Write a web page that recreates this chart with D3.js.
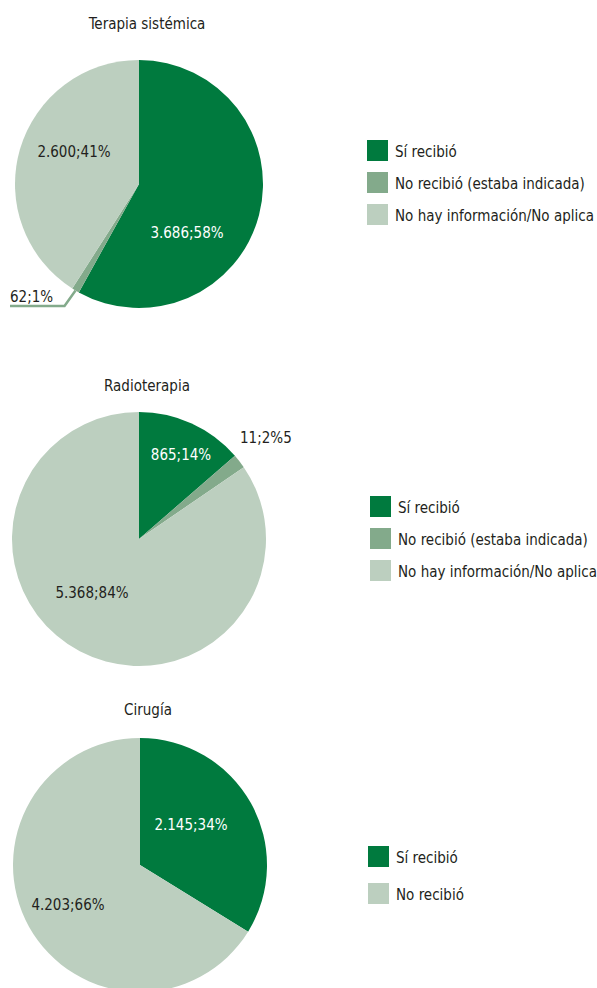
<!DOCTYPE html>
<html>
<head>
<meta charset="utf-8">
<script src="https://cdn.jsdelivr.net/npm/d3@7"></script>
<style>
  body { margin: 0; background: #fff; }
  text { font-family: "Liberation Sans Narrow", "DejaVu Sans Condensed", "Roboto", sans-serif; fill: #231f20; }
</style>
</head>
<body>
<div class="graph"></div>
<script>
// data
var titles = ['Terapia sistémica', 'Radioterapia', 'Cirugía'];
var categories = ['Sí recibió', 'No recibió (estaba indicada)', 'No hay información/No aplica'];
var categoriesCirugia = ['Sí recibió', 'No recibió'];
var terapiaValues = [3686, 62, 2600];
var radioValues = [865, 115, 5368];
var cirugiaValues = [2145, 4203];
var terapiaLabels = ['3.686;58%', '62;1%', '2.600;41%'];
var radioLabels = ['865;14%', '11;2%5', '5.368;84%'];
var cirugiaLabels = ['2.145;34%', '4.203;66%'];

var width = 597,
    height = 988;

var svg = d3.select('div.graph')
    .append('svg')
        .attr('width', width)
        .attr('height', height);

var color3 = d3.scaleOrdinal(categories, ['#007a3e', '#83aa8b', '#bccfbf']);
var color2 = d3.scaleOrdinal(categoriesCirugia, ['#007a3e', '#bccfbf']);

var charts = [
  {title: titles[0], values: terapiaValues, labels: terapiaLabels, cats: categories, color: color3,
   cx: 139, cy: 184, r: 124, titleY: 29,
   labelPos: [[48, 54, 'w'], null, [-65, -27, 'd']],
   leader: 1,
   legend: {x: 367, y: 140, step: 32}},
  {title: titles[1], values: radioValues, labels: radioLabels, cats: categories, color: color3,
   cx: 139, cy: 539, r: 127, titleY: 391,
   labelPos: [[42, -79, 'w'], [101, -96, 'o'], [-47, 59, 'd']],
   legend: {x: 370, y: 496, step: 32}},
  {title: titles[2], values: cirugiaValues, labels: cirugiaLabels, cats: categoriesCirugia, color: color2,
   cx: 140, cy: 865, r: 127, titleY: 715,
   labelPos: [[51, -35, 'w'], [-72, 45, 'd']],
   legend: {x: 368, y: 846, step: 37}}
];

var pie = d3.pie().sort(null).value((d) => d);

charts.forEach(function(c) {
    var arc = d3.arc().innerRadius(0).outerRadius(c.r);
    var edgeArc = d3.arc().innerRadius(c.r).outerRadius(c.r);

    var g = svg.append('g')
        .attr('transform', 'translate(' + c.cx + ',' + c.cy + ')');

    var arcs = pie(c.values);

    g.selectAll('path')
        .data(arcs)
        .enter()
        .append('path')
            .attr('fill', (d, i) => c.color(c.cats[i]))
            .attr('d', arc);

    svg.append('text')
        .attr('x', c.cx + 8)
        .attr('y', c.titleY)
        .attr('text-anchor', 'middle')
        .style('font-size', '15px')
        .text(c.title);

    arcs.forEach(function(d, i) {
        var p = c.labelPos[i];
        if (!p) return;
        g.append('text')
            .attr('x', p[0])
            .attr('y', p[1])
            .attr('text-anchor', p[2] == 'o' ? 'start' : 'middle')
            .style('font-size', '15px')
            .style('fill', p[2] == 'w' ? '#fff' : '#231f20')
            .text(c.labels[i]);
    });

    // leader line for the thin slice
    if (c.leader != null) {
        var d = arcs[c.leader];
        var posA = edgeArc.centroid(d);
        var posB = [posA[0] - 11, c.r - 2];
        var posC = [10 - c.cx, c.r - 2];
        g.append('polyline')
            .attr('points', [posA, posB, posC])
            .attr('stroke', c.color(c.cats[c.leader]))
            .attr('stroke-width', 2.5)
            .style('fill', 'none');
        g.append('text')
            .attr('x', 10 - c.cx)
            .attr('y', c.r - 6)
            .style('font-size', '15px')
            .text(c.labels[c.leader]);
    }

    var lg = svg.append('g')
        .attr('transform', 'translate(' + c.legend.x + ',' + c.legend.y + ')');
    var rows = lg.selectAll('g')
        .data(c.cats)
        .enter()
        .append('g')
            .attr('transform', (d, i) => 'translate(0,' + i * c.legend.step + ')');
    rows.append('rect')
        .attr('width', 21)
        .attr('height', 21)
        .attr('fill', (d) => c.color(d));
    rows.append('text')
        .attr('x', 28)
        .attr('y', 17)
        .style('font-size', '15px')
        .text((d) => d);
});
</script>
</body>
</html>
